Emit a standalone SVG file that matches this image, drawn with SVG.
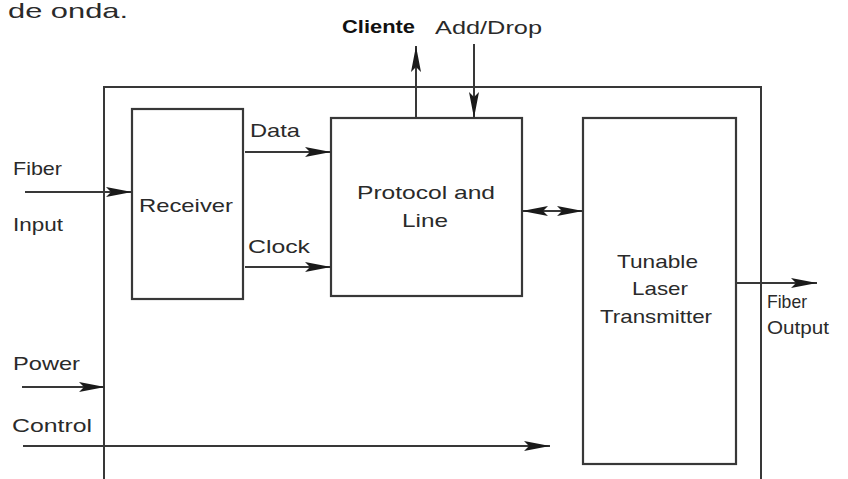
<svg xmlns="http://www.w3.org/2000/svg" width="848" height="479" viewBox="0 0 848 479">
<style>
.ln{stroke:#383838;stroke-width:2;fill:none}
.bx{stroke:#383838;stroke-width:2.2;fill:#fff}
.t{font-family:"Liberation Sans",Arial,sans-serif;font-size:19px;fill:#2a2a2a}
.tb{font-family:"Liberation Sans",Arial,sans-serif;font-size:18px;font-weight:bold;fill:#111}
</style>
<defs>
<marker id="ah" markerUnits="userSpaceOnUse" markerWidth="26" markerHeight="12" refX="26" refY="6" orient="auto-start-reverse">
<path d="M0,1 L26,6 L0,11 L5,6 Z" fill="#1a1a1a"/>
</marker>
</defs>
<rect width="848" height="479" fill="#fff"/>
<text class="t" x="8" y="18" style="font-size:21px" textLength="120" lengthAdjust="spacingAndGlyphs">de onda.</text>
<g id="frame">
<path class="ln" d="M104,479 V87 H761 V479"/>
</g>
<g id="receiver">
<rect class="bx" x="132" y="109" width="111" height="190"/>
<text class="t" x="139" y="212" textLength="94" lengthAdjust="spacingAndGlyphs">Receiver</text>
</g>
<g id="protocol">
<rect class="bx" x="331" y="118" width="191" height="178"/>
<text class="t" x="357" y="199" textLength="138" lengthAdjust="spacingAndGlyphs">Protocol and</text>
<text class="t" x="402" y="227" textLength="46" lengthAdjust="spacingAndGlyphs">Line</text>
</g>
<g id="transmitter">
<rect class="bx" x="583" y="118" width="153" height="346"/>
<text class="t" x="617" y="268" textLength="81" lengthAdjust="spacingAndGlyphs">Tunable</text>
<text class="t" x="632" y="295" textLength="56" lengthAdjust="spacingAndGlyphs">Laser</text>
<text class="t" x="600" y="323" textLength="112" lengthAdjust="spacingAndGlyphs">Transmitter</text>
</g>
<g id="connectors">
<line class="ln" x1="25" y1="192" x2="132" y2="192" marker-end="url(#ah)"/>
<line class="ln" x1="245" y1="152" x2="331" y2="152" marker-end="url(#ah)"/>
<line class="ln" x1="245" y1="267" x2="331" y2="267" marker-end="url(#ah)"/>
<line class="ln" x1="522" y1="211" x2="583" y2="211" marker-start="url(#ah)" marker-end="url(#ah)"/>
<line class="ln" x1="416" y1="118" x2="416" y2="46" marker-end="url(#ah)"/>
<line class="ln" x1="474" y1="44" x2="474" y2="118" marker-end="url(#ah)"/>
<line class="ln" x1="736" y1="283" x2="817" y2="283" marker-end="url(#ah)"/>
<line class="ln" x1="22" y1="387" x2="105" y2="387" marker-end="url(#ah)"/>
<line class="ln" x1="23" y1="446" x2="550" y2="446" marker-end="url(#ah)"/>
</g>
<g id="labels">
<text class="tb" x="342" y="33" textLength="73" lengthAdjust="spacingAndGlyphs">Cliente</text>
<text class="t" x="435" y="34" textLength="107" lengthAdjust="spacingAndGlyphs">Add/Drop</text>
<text class="t" x="250" y="137" textLength="50" lengthAdjust="spacingAndGlyphs">Data</text>
<text class="t" x="248" y="253" textLength="62" lengthAdjust="spacingAndGlyphs">Clock</text>
<text class="t" x="13" y="175" textLength="49" lengthAdjust="spacingAndGlyphs">Fiber</text>
<text class="t" x="13" y="231" textLength="50" lengthAdjust="spacingAndGlyphs">Input</text>
<text class="t" x="767" y="308" textLength="40" lengthAdjust="spacingAndGlyphs">Fiber</text>
<text class="t" x="767" y="334" textLength="62" lengthAdjust="spacingAndGlyphs">Output</text>
<text class="t" x="13" y="370" textLength="67" lengthAdjust="spacingAndGlyphs">Power</text>
<text class="t" x="12" y="432" textLength="80" lengthAdjust="spacingAndGlyphs">Control</text>
</g>
</svg>
